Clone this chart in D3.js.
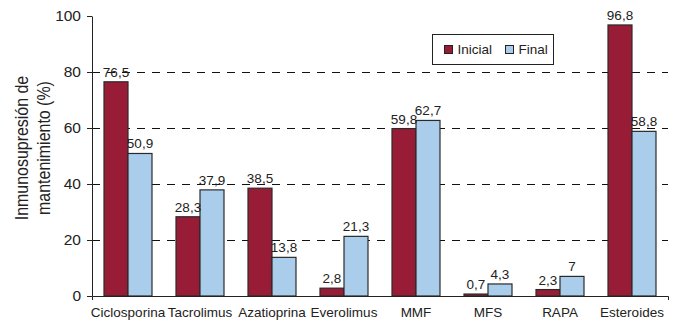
<!DOCTYPE html>
<html>
<head>
<meta charset="utf-8">
<script src="https://cdn.jsdelivr.net/npm/d3@7"></script>
<style>
  html, body { margin: 0; padding: 0; background: #fff; }
  svg { display: block; font-family: "Liberation Sans", Arial, Helvetica, sans-serif; }
</style>
</head>
<body>
<svg id="chart" width="675" height="322"></svg>
<script>
// Maintenance immunosuppression, initial vs final (%)
const categories = ["Ciclosporina", "Tacrolimus", "Azatioprina", "Everolimus", "MMF", "MFS", "RAPA", "Esteroides"];
const seriesNames = ["Inicial", "Final"];
const inicial = [76.5, 28.3, 38.5, 2.8, 59.8, 0.7, 2.3, 96.8];
const final = [50.9, 37.9, 13.8, 21.3, 62.7, 4.3, 7, 58.8];
const yTicks = [0, 20, 40, 60, 80, 100];
const gridValues = [20, 40, 60, 80];
const yTitle = ["Inmunosupresión de", "mantenimiento (%)"];

const colors = { Inicial: "#991c36", Final: "#aacdeb" };

const svg = d3.select("#chart");
const margin = { left: 92, right: 7, top: 16, bottom: 26 };
const width = 675, height = 322;
const x0 = margin.left, x1 = width - margin.right;
const yTop = margin.top, yBottom = height - margin.bottom;

const x = d3.scaleBand().domain(categories).range([x0, x1])
  .paddingInner(1 / 3).paddingOuter(1 / 6);
const xs = d3.scaleBand().domain(seriesNames).range([0, x.bandwidth()]);
const y = d3.scaleLinear().domain([0, 100]).range([yBottom, yTop]);

const rows = categories.map((c, i) => ({ cat: c, Inicial: inicial[i], Final: final[i] }));

// dashed reference lines
svg.append("g").selectAll("line").data(gridValues).join("line")
  .attr("x1", x0).attr("x2", x1)
  .attr("y1", d => Math.round(y(d)) + 0.5).attr("y2", d => Math.round(y(d)) + 0.5)
  .attr("stroke", "#111").attr("stroke-width", 1)
  .attr("stroke-dasharray", "8,7");

// bars
const groups = svg.append("g").selectAll("g").data(rows).join("g")
  .attr("transform", d => `translate(${x(d.cat)},0)`);

groups.selectAll("rect").data(d => seriesNames.map(k => ({ key: k, value: d[k] }))).join("rect")
  .attr("x", d => xs(d.key))
  .attr("y", d => y(d.value))
  .attr("width", xs.bandwidth())
  .attr("height", d => y(0) - y(d.value))
  .attr("fill", d => colors[d.key])
  .attr("stroke", "#2a2a2a").attr("stroke-width", 1.2);

// value labels
const fmt = v => String(v).replace(".", ",");
groups.selectAll("text").data(d => seriesNames.map(k => ({ key: k, value: d[k] }))).join("text")
  .attr("x", d => xs(d.key) + xs.bandwidth() / 2)
  .attr("y", d => y(d.value) - 5)
  .attr("text-anchor", "middle")
  .attr("font-size", 13.5).attr("fill", "#222")
  .text(d => fmt(d.value));

// y axis
const yAxis = d3.axisLeft(y).tickValues(yTicks).tickSize(5).tickSizeOuter(0).tickPadding(6);
const gy = svg.append("g").attr("transform", `translate(${x0},0)`).call(yAxis);
gy.selectAll("text").attr("font-size", 15.5).attr("fill", "#222").attr("font-family", null);
gy.selectAll("line, path").attr("stroke", "#222");

// x axis
const xAxis = d3.axisBottom(x).tickSize(0).tickSizeOuter(4).tickPadding(11);
const gx = svg.append("g").attr("transform", `translate(0,${yBottom})`).call(xAxis);
gx.selectAll("text").attr("font-size", 13.5).attr("fill", "#222").attr("font-family", null);
gx.select("path").attr("stroke", "#222");

// y axis title (two lines, slightly condensed)
const title = svg.append("text")
  .attr("transform", `translate(28,${(yTop + yBottom) / 2 - 8}) rotate(-90) scale(0.84,1)`)
  .attr("text-anchor", "middle").attr("font-size", 19).attr("fill", "#222");
title.selectAll("tspan").data(yTitle).join("tspan")
  .attr("x", 0).attr("dy", (d, i) => i === 0 ? 0 : 22)
  .text(d => d);

// legend
const legend = svg.append("g").attr("transform", "translate(432.5,34.5)");
legend.append("rect").attr("width", 121).attr("height", 30)
  .attr("fill", "#fff").attr("stroke", "#222");
const items = legend.selectAll("g").data(seriesNames).join("g")
  .attr("transform", (d, i) => `translate(${i === 0 ? 12 : 73},11)`);
items.append("rect").attr("width", 8).attr("height", 8)
  .attr("fill", d => colors[d]).attr("stroke", "#222");
items.append("text").attr("x", 13).attr("y", 8.5)
  .attr("font-size", 13.5).attr("fill", "#222").text(d => d);
</script>
</body>
</html>
